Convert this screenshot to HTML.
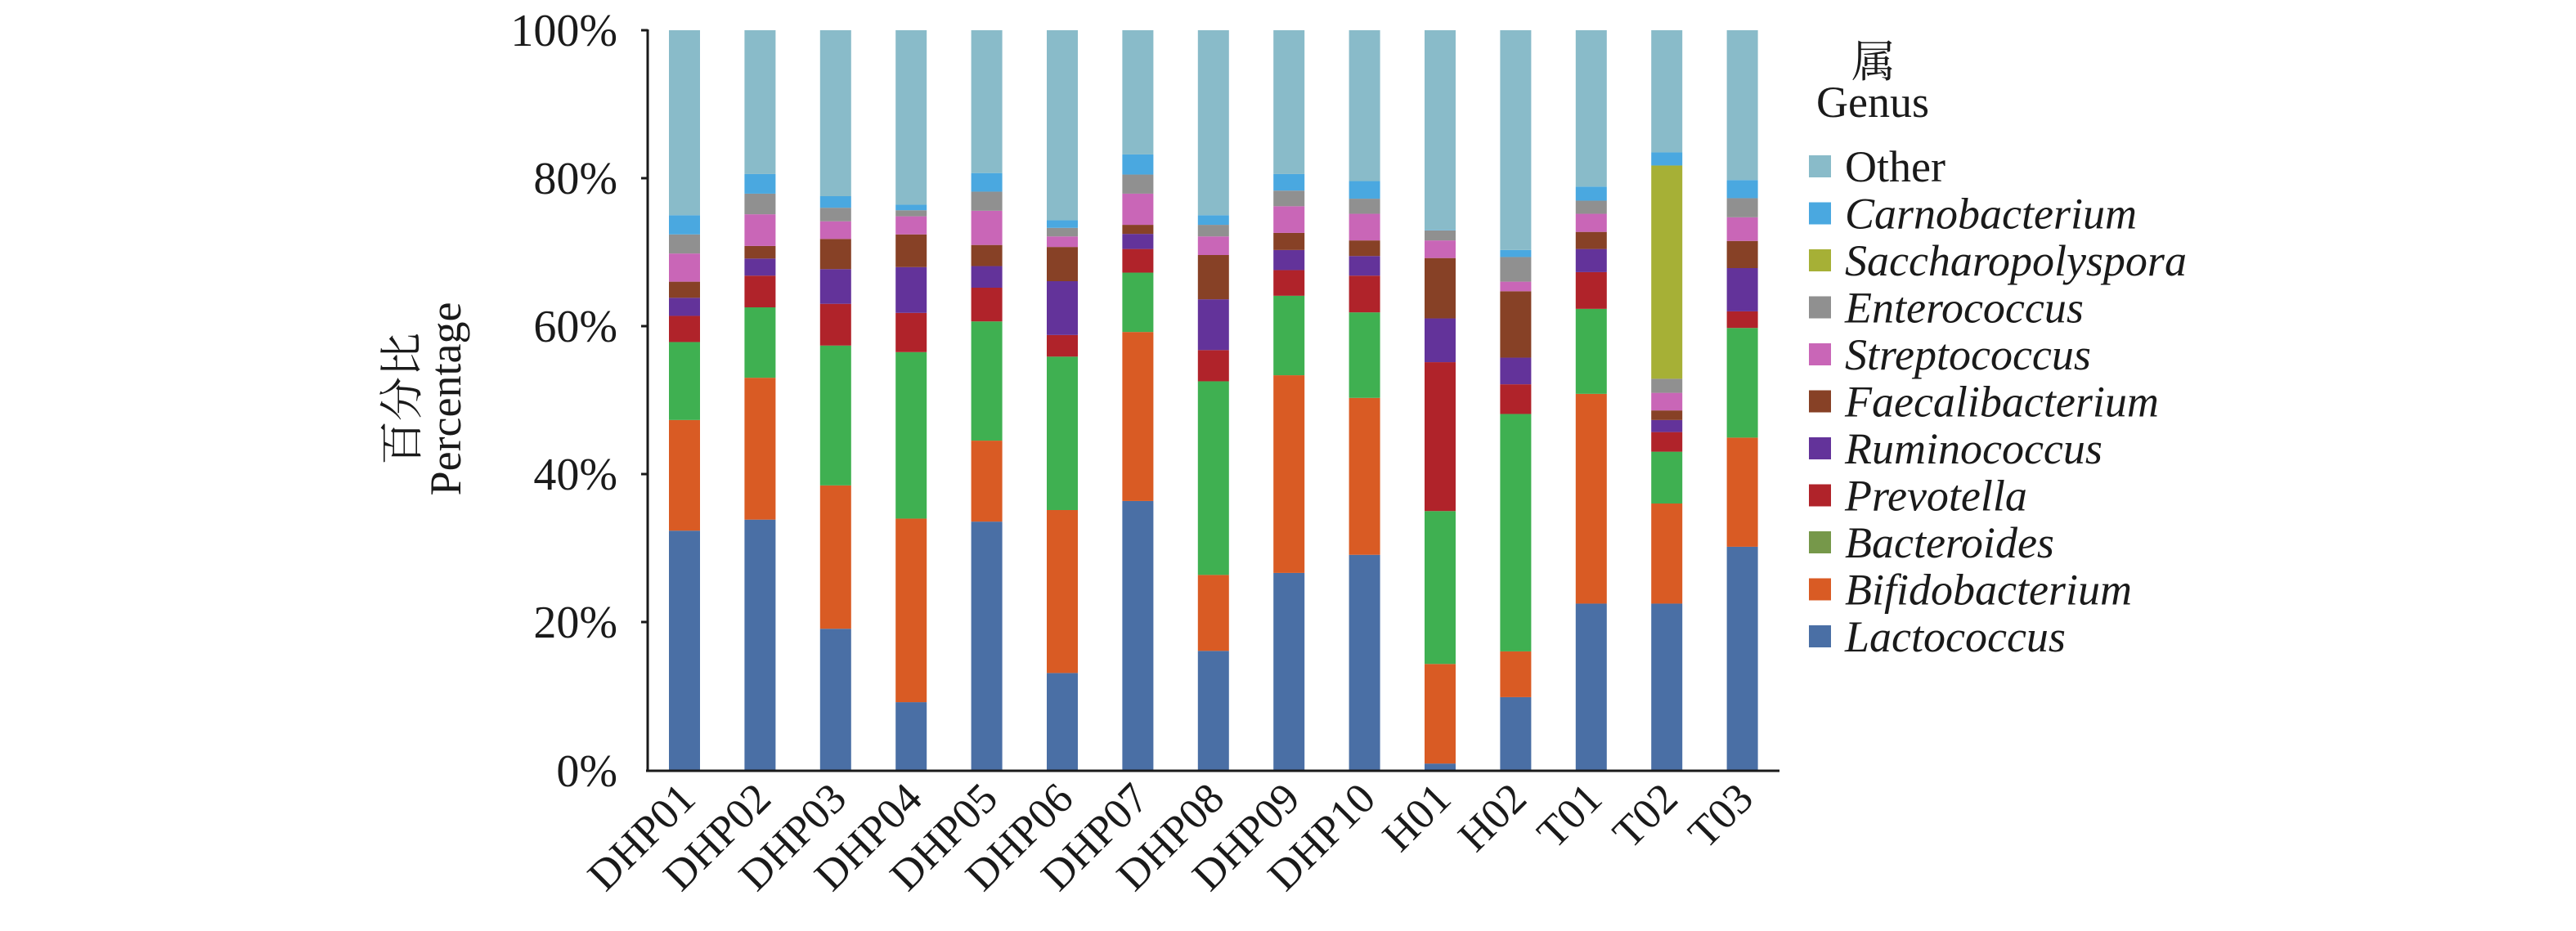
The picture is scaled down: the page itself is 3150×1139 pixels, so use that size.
<!DOCTYPE html>
<html><head><meta charset="utf-8"><style>
html,body{margin:0;padding:0;background:#fff}
svg{display:block}
text{font-family:"Liberation Serif","Noto Serif CJK SC",serif;fill:#1a1a1a}
</style></head><body>
<svg width="3150" height="1139" viewBox="0 0 3150 1139" xmlns="http://www.w3.org/2000/svg">
<g transform="scale(1,0.61538)">
<g transform="translate(818,0)">
<rect x="0" width="38" y="1055" height="478" fill="#4a6fa5"/><rect x="0" width="38" y="835" height="220" fill="#d95b24"/><rect x="0" width="38" y="680" height="155" fill="#3fb051"/><rect x="0" width="38" y="628" height="52" fill="#b0232a"/><rect x="0" width="38" y="592" height="36" fill="#63339a"/><rect x="0" width="38" y="560" height="32" fill="#874126"/><rect x="0" width="38" y="504" height="56" fill="#c966b7"/><rect x="0" width="38" y="466" height="38" fill="#909090"/><rect x="0" width="38" y="428" height="38" fill="#4aa8e0"/><rect x="0" width="38" y="60" height="368" fill="#89bbc9"/></g>
<g transform="translate(910.4,0)">
<rect width="38" y="1033" height="500" fill="#4a6fa5"/><rect width="38" y="751" height="282" fill="#d95b24"/><rect width="38" y="611" height="140" fill="#3fb051"/><rect width="38" y="548" height="63" fill="#b0232a"/><rect width="38" y="514" height="34" fill="#63339a"/><rect width="38" y="489" height="25" fill="#874126"/><rect width="38" y="426" height="63" fill="#c966b7"/><rect width="38" y="385" height="41" fill="#909090"/><rect width="38" y="346" height="39" fill="#4aa8e0"/><rect width="38" y="60" height="286" fill="#89bbc9"/></g>
<g transform="translate(1002.8,0)">
<rect width="38" y="1250" height="283" fill="#4a6fa5"/><rect width="38" y="965" height="285" fill="#d95b24"/><rect width="38" y="687" height="278" fill="#3fb051"/><rect width="38" y="604" height="83" fill="#b0232a"/><rect width="38" y="535" height="69" fill="#63339a"/><rect width="38" y="475" height="60" fill="#874126"/><rect width="38" y="440" height="35" fill="#c966b7"/><rect width="38" y="413" height="27" fill="#909090"/><rect width="38" y="390" height="23" fill="#4aa8e0"/><rect width="38" y="60" height="330" fill="#89bbc9"/></g>
<g transform="translate(1095.2,0)">
<rect width="38" y="1396" height="137" fill="#4a6fa5"/><rect width="38" y="1031" height="365" fill="#d95b24"/><rect width="38" y="700" height="331" fill="#3fb051"/><rect width="38" y="622" height="78" fill="#b0232a"/><rect width="38" y="531" height="91" fill="#63339a"/><rect width="38" y="466" height="65" fill="#874126"/><rect width="38" y="430" height="36" fill="#c966b7"/><rect width="38" y="418" height="12" fill="#909090"/><rect width="38" y="407" height="11" fill="#4aa8e0"/><rect width="38" y="60" height="347" fill="#89bbc9"/></g>
<g transform="translate(1187.6,0)">
<rect width="38" y="1037" height="496" fill="#4a6fa5"/><rect width="38" y="876" height="161" fill="#d95b24"/><rect width="38" y="639" height="237" fill="#3fb051"/><rect width="38" y="572" height="67" fill="#b0232a"/><rect width="38" y="529" height="43" fill="#63339a"/><rect width="38" y="487" height="42" fill="#874126"/><rect width="38" y="419" height="68" fill="#c966b7"/><rect width="38" y="381" height="38" fill="#909090"/><rect width="38" y="344" height="37" fill="#4aa8e0"/><rect width="38" y="60" height="284" fill="#89bbc9"/></g>
<g transform="translate(1280,0)">
<rect width="38" y="1338" height="195" fill="#4a6fa5"/><rect width="38" y="1014" height="324" fill="#d95b24"/><rect width="38" y="709" height="305" fill="#3fb051"/><rect width="38" y="666" height="43" fill="#b0232a"/><rect width="38" y="559" height="107" fill="#63339a"/><rect width="38" y="491" height="68" fill="#874126"/><rect width="38" y="470" height="21" fill="#c966b7"/><rect width="38" y="453" height="17" fill="#909090"/><rect width="38" y="438" height="15" fill="#4aa8e0"/><rect width="38" y="60" height="378" fill="#89bbc9"/></g>
<g transform="translate(1372.4,0)">
<rect width="38" y="996" height="537" fill="#4a6fa5"/><rect width="38" y="660" height="336" fill="#d95b24"/><rect width="38" y="542" height="118" fill="#3fb051"/><rect width="38" y="495" height="47" fill="#b0232a"/><rect width="38" y="465" height="30" fill="#63339a"/><rect width="38" y="447" height="18" fill="#874126"/><rect width="38" y="385" height="62" fill="#c966b7"/><rect width="38" y="347" height="38" fill="#909090"/><rect width="38" y="307" height="40" fill="#4aa8e0"/><rect width="38" y="60" height="247" fill="#89bbc9"/></g>
<g transform="translate(1464.8,0)">
<rect width="38" y="1294" height="239" fill="#4a6fa5"/><rect width="38" y="1143" height="151" fill="#d95b24"/><rect width="38" y="758" height="385" fill="#3fb051"/><rect width="38" y="696" height="62" fill="#b0232a"/><rect width="38" y="595" height="101" fill="#63339a"/><rect width="38" y="507" height="88" fill="#874126"/><rect width="38" y="470" height="37" fill="#c966b7"/><rect width="38" y="447" height="23" fill="#909090"/><rect width="38" y="428" height="19" fill="#4aa8e0"/><rect width="38" y="60" height="368" fill="#89bbc9"/></g>
<g transform="translate(1557.2,0)">
<rect width="38" y="1139" height="394" fill="#4a6fa5"/><rect width="38" y="746" height="393" fill="#d95b24"/><rect width="38" y="588" height="158" fill="#3fb051"/><rect width="38" y="537" height="51" fill="#b0232a"/><rect width="38" y="497" height="40" fill="#63339a"/><rect width="38" y="463" height="34" fill="#874126"/><rect width="38" y="410" height="53" fill="#c966b7"/><rect width="38" y="379" height="31" fill="#909090"/><rect width="38" y="346" height="33" fill="#4aa8e0"/><rect width="38" y="60" height="286" fill="#89bbc9"/></g>
<g transform="translate(1649.6,0)">
<rect width="38" y="1103" height="430" fill="#4a6fa5"/><rect width="38" y="791" height="312" fill="#d95b24"/><rect width="38" y="621" height="170" fill="#3fb051"/><rect width="38" y="548" height="73" fill="#b0232a"/><rect width="38" y="509" height="39" fill="#63339a"/><rect width="38" y="478" height="31" fill="#874126"/><rect width="38" y="425" height="53" fill="#c966b7"/><rect width="38" y="395" height="30" fill="#909090"/><rect width="38" y="360" height="35" fill="#4aa8e0"/><rect width="38" y="60" height="300" fill="#89bbc9"/></g>
<g transform="translate(1742,0)">
<rect width="38" y="1518" height="15" fill="#4a6fa5"/><rect width="38" y="1320" height="198" fill="#d95b24"/><rect width="38" y="1016" height="304" fill="#3fb051"/><rect width="38" y="720" height="296" fill="#b0232a"/><rect width="38" y="633" height="87" fill="#63339a"/><rect width="38" y="513" height="120" fill="#874126"/><rect width="38" y="478" height="35" fill="#c966b7"/><rect width="38" y="458" height="20" fill="#909090"/><rect width="38" y="457" height="1" fill="#4aa8e0"/><rect width="38" y="60" height="397" fill="#89bbc9"/></g>
<g transform="translate(1834.4,0)">
<rect width="38" y="1386" height="147" fill="#4a6fa5"/><rect width="38" y="1295" height="91" fill="#d95b24"/><rect width="38" y="823" height="472" fill="#3fb051"/><rect width="38" y="764" height="59" fill="#b0232a"/><rect width="38" y="711" height="53" fill="#63339a"/><rect width="38" y="579" height="132" fill="#874126"/><rect width="38" y="560" height="19" fill="#c966b7"/><rect width="38" y="511" height="49" fill="#909090"/><rect width="38" y="497" height="14" fill="#4aa8e0"/><rect width="38" y="60" height="437" fill="#89bbc9"/></g>
<g transform="translate(1926.8,0)">
<rect width="38" y="1200" height="333" fill="#4a6fa5"/><rect width="38" y="783" height="417" fill="#d95b24"/><rect width="38" y="614" height="169" fill="#3fb051"/><rect width="38" y="541" height="73" fill="#b0232a"/><rect width="38" y="495" height="46" fill="#63339a"/><rect width="38" y="461" height="34" fill="#874126"/><rect width="38" y="425" height="36" fill="#c966b7"/><rect width="38" y="399" height="26" fill="#909090"/><rect width="38" y="371" height="28" fill="#4aa8e0"/><rect width="38" y="60" height="311" fill="#89bbc9"/></g>
<g transform="translate(2019.2,0)">
<rect width="38" y="1200" height="333" fill="#4a6fa5"/><rect width="38" y="1001" height="199" fill="#d95b24"/><rect width="38" y="898" height="103" fill="#3fb051"/><rect width="38" y="859" height="39" fill="#b0232a"/><rect width="38" y="835" height="24" fill="#63339a"/><rect width="38" y="816" height="19" fill="#874126"/><rect width="38" y="781" height="35" fill="#c966b7"/><rect width="38" y="753" height="28" fill="#909090"/><rect width="38" y="329" height="424" fill="#a6b036"/><rect width="38" y="303" height="26" fill="#4aa8e0"/><rect width="38" y="60" height="243" fill="#89bbc9"/></g>
<g transform="translate(2111.6,0)">
<rect width="38" y="1087" height="446" fill="#4a6fa5"/><rect width="38" y="870" height="217" fill="#d95b24"/><rect width="38" y="652" height="218" fill="#3fb051"/><rect width="38" y="619" height="33" fill="#b0232a"/><rect width="38" y="533" height="86" fill="#63339a"/><rect width="38" y="479" height="54" fill="#874126"/><rect width="38" y="432" height="47" fill="#c966b7"/><rect width="38" y="394" height="38" fill="#909090"/><rect width="38" y="358" height="36" fill="#4aa8e0"/><rect width="38" y="60" height="298" fill="#89bbc9"/></g>
</g>
<g stroke="#1a1a1a" stroke-width="3" fill="none">
<line x1="792" y1="36" x2="792" y2="944"/>
<line x1="790" y1="943" x2="2176" y2="943"/>
<line x1="784" y1="37" x2="792" y2="37"/>
<line x1="784" y1="218" x2="792" y2="218"/>
<line x1="784" y1="399" x2="792" y2="399"/>
<line x1="784" y1="580" x2="792" y2="580"/>
<line x1="784" y1="761" x2="792" y2="761"/>
</g>
<g font-size="56" text-anchor="end">
<text x="755" y="56">100%</text>
<text x="755" y="237">80%</text>
<text x="755" y="418">60%</text>
<text x="755" y="599">40%</text>
<text x="755" y="780">20%</text>
<text x="755" y="962">0%</text>
</g>
<g font-size="54" text-anchor="middle">
<text transform="translate(510,488) rotate(-90)">百分比</text>
<text transform="translate(563,488) rotate(-90)">Percentage</text>
</g>
<g font-size="53" text-anchor="end">
<text transform="translate(853,980) rotate(-45)">DHP01</text>
<text transform="translate(945.4,980) rotate(-45)">DHP02</text>
<text transform="translate(1037.8,980) rotate(-45)">DHP03</text>
<text transform="translate(1130.2,980) rotate(-45)">DHP04</text>
<text transform="translate(1222.6,980) rotate(-45)">DHP05</text>
<text transform="translate(1315,980) rotate(-45)">DHP06</text>
<text transform="translate(1407.4,980) rotate(-45)">DHP07</text>
<text transform="translate(1499.8,980) rotate(-45)">DHP08</text>
<text transform="translate(1592.2,980) rotate(-45)">DHP09</text>
<text transform="translate(1684.6,980) rotate(-45)">DHP10</text>
<text transform="translate(1777,980) rotate(-45)">H01</text>
<text transform="translate(1869.4,980) rotate(-45)">H02</text>
<text transform="translate(1961.8,980) rotate(-45)">T01</text>
<text transform="translate(2054.2,980) rotate(-45)">T02</text>
<text transform="translate(2146.6,980) rotate(-45)">T03</text>
</g>
<text x="2291" y="94" font-size="54" text-anchor="middle">属</text>
<text x="2221" y="143" font-size="54">Genus</text>
<g>
<rect x="2212" y="190" width="27" height="27" fill="#89bbc9"/>
<rect x="2212" y="247.5" width="27" height="27" fill="#4aa8e0"/>
<rect x="2212" y="305" width="27" height="27" fill="#a6b036"/>
<rect x="2212" y="362.5" width="27" height="27" fill="#909090"/>
<rect x="2212" y="420" width="27" height="27" fill="#c966b7"/>
<rect x="2212" y="477.5" width="27" height="27" fill="#874126"/>
<rect x="2212" y="535" width="27" height="27" fill="#63339a"/>
<rect x="2212" y="592.5" width="27" height="27" fill="#b0232a"/>
<rect x="2212" y="650" width="27" height="27" fill="#76984a"/>
<rect x="2212" y="707.5" width="27" height="27" fill="#d95b24"/>
<rect x="2212" y="765" width="27" height="27" fill="#4a6fa5"/>
</g>
<g font-size="54">
<text x="2256" y="222">Other</text>
<g font-style="italic">
<text x="2256" y="279.5">Carnobacterium</text>
<text x="2256" y="337">Saccharopolyspora</text>
<text x="2256" y="394.5">Enterococcus</text>
<text x="2256" y="452">Streptococcus</text>
<text x="2256" y="509.5">Faecalibacterium</text>
<text x="2256" y="567">Ruminococcus</text>
<text x="2256" y="624.5">Prevotella</text>
<text x="2256" y="682">Bacteroides</text>
<text x="2256" y="739.5">Bifidobacterium</text>
<text x="2256" y="797">Lactococcus</text>
</g>
</g>
</svg>
</body></html>
